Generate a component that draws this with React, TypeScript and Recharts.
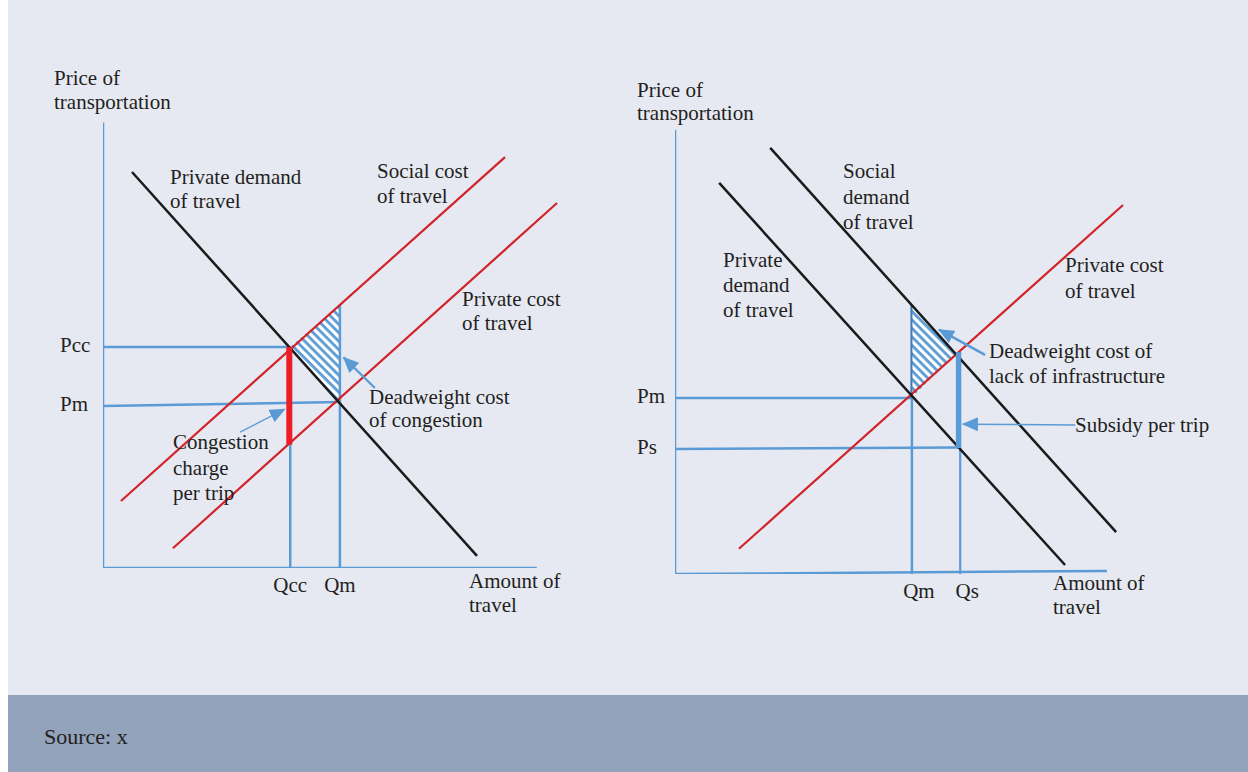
import React from "react";
import { ComposedChart, Line, Area, XAxis, YAxis } from "recharts";

type Pt = { q: number; p: number };
type RPt = { q: number; r: [number, number] };

// ---------- Left panel: congestion charge ----------
const leftPriceTickValues = [36, 49.1];
const leftPriceTickLabels = ["Pm", "Pcc"];
const leftQtyTickValues = [40.7, 51.5];
const leftQtyTickLabels = ["Qcc", "Qm"];

const leftAxisY: Pt[] = [{ q: 0, p: 0 }, { q: 0, p: 99 }];
const leftAxisX: Pt[] = [{ q: 0, p: 0 }, { q: 94.3, p: 0 }];
const leftPrivateDemand: Pt[] = [{ q: 6.3, p: 88 }, { q: 81.3, p: 2.7 }];
const leftSocialCost: Pt[] = [{ q: 3.9, p: 14.9 }, { q: 87.4, p: 91.3 }];
const leftPrivateCost: Pt[] = [{ q: 15.2, p: 4.4 }, { q: 98.7, p: 81.1 }];
const leftPccLine: Pt[] = [{ q: 0, p: 49.1 }, { q: 40.7, p: 49.1 }];
const leftPmLine: Pt[] = [{ q: 0, p: 36 }, { q: 51.5, p: 36.9 }];
const leftQccLine: Pt[] = [{ q: 40.7, p: 0 }, { q: 40.7, p: 49.1 }];
const leftQmLine: Pt[] = [{ q: 51.5, p: 0 }, { q: 51.5, p: 58.5 }];
const leftChargeBar: Pt[] = [{ q: 40.5, p: 27.4 }, { q: 40.5, p: 49.1 }];
const leftDeadweight: RPt[] = [
  { q: 40.7, r: [49.1, 49.1] },
  { q: 51.5, r: [36.9, 58.5] },
];
const leftDeadweightArrow: Pt[] = [{ q: 59.1, p: 40 }, { q: 52.3, p: 46.8 }];
const leftChargeArrow: Pt[] = [{ q: 29.8, p: 30.2 }, { q: 39.5, p: 35.3 }];

// ---------- Right panel: lack of infrastructure ----------
const rightPriceTickValues = [27.8, 39.1];
const rightPriceTickLabels = ["Ps", "Pm"];
const rightQtyTickValues = [51.5, 62];
const rightQtyTickLabels = ["Qm", "Qs"];

const rightAxisY: Pt[] = [{ q: 0, p: 0 }, { q: 0, p: 98.7 }];
const rightAxisX: Pt[] = [{ q: 0, p: 0 }, { q: 93.9, p: 0.67 }];
const rightPrivateDemand: Pt[] = [{ q: 9.6, p: 86.9 }, { q: 84.8, p: 2 }];
const rightSocialDemand: Pt[] = [{ q: 20.7, p: 94.7 }, { q: 95.9, p: 9.3 }];
const rightPrivateCost: Pt[] = [{ q: 13.9, p: 5.6 }, { q: 97.4, p: 82 }];
const rightPmLine: Pt[] = [{ q: 0, p: 39.1 }, { q: 51.5, p: 39.1 }];
const rightPsLine: Pt[] = [{ q: 0, p: 27.8 }, { q: 61.8, p: 28.1 }];
const rightQmLine: Pt[] = [{ q: 51.5, p: 0 }, { q: 51.5, p: 39.1 }];
const rightQsLine: Pt[] = [{ q: 62, p: 0 }, { q: 62, p: 49.3 }];
const rightSubsidyBar: Pt[] = [{ q: 61.6, p: 28 }, { q: 61.6, p: 49.3 }];
const rightDeadweight: RPt[] = [
  { q: 51.4, r: [39.1, 59.8] },
  { q: 61.2, r: [49.3, 49.3] },
];
const rightDeadweightEdge: Pt[] = [{ q: 51.4, p: 39.1 }, { q: 51.4, p: 59.8 }];
const rightDeadweightArrow: Pt[] = [{ q: 67.4, p: 48.7 }, { q: 57.4, p: 54.3 }];
const rightSubsidyArrow: Pt[] = [{ q: 87, p: 33.1 }, { q: 62.6, p: 33.3 }];

// ---------- Styles ----------
const FONT = "'Liberation Serif', 'Times New Roman', serif";
const TEXT = "#231f20";
const BLUE = "#5b9bd5";
const DARKBLUE = "#3f78b5";
const RED = "#d2232a";
const BRIGHTRED = "#ee1c25";
const BLACK = "#1a1a1a";
const BG = "#e6e9f2";
const BAND = "#94a3bc";
const FS = 21;

type Label = { x: number; y: number; lh: number; lines: string[] };
const labels: Label[] = [
  { x: 54, y: 85, lh: 23.5, lines: ["Price of", "transportation"] },
  { x: 170, y: 184, lh: 24, lines: ["Private demand", "of travel"] },
  { x: 377, y: 178, lh: 25, lines: ["Social cost", "of travel"] },
  { x: 462, y: 306, lh: 24, lines: ["Private cost", "of travel"] },
  { x: 369, y: 404, lh: 23, lines: ["Deadweight cost", "of congestion"] },
  { x: 173, y: 449, lh: 25.5, lines: ["Congestion", "charge", "per trip"] },
  { x: 469, y: 588, lh: 24, lines: ["Amount of", "travel"] },
  { x: 637, y: 97, lh: 23, lines: ["Price of", "transportation"] },
  { x: 843, y: 178, lh: 25.5, lines: ["Social", "demand", "of travel"] },
  { x: 723, y: 267, lh: 25, lines: ["Private", "demand", "of travel"] },
  { x: 1065, y: 272, lh: 25.5, lines: ["Private cost", "of travel"] },
  { x: 989, y: 358, lh: 25, lines: ["Deadweight cost of", "lack of infrastructure"] },
  { x: 1075, y: 432, lh: 24, lines: ["Subsidy per trip"] },
  { x: 1053, y: 590, lh: 24, lines: ["Amount of", "travel"] },
];

const seg = (
  key: string,
  data: Pt[],
  color: string,
  width: number,
  arrow?: boolean
) => (
  <Line
    key={key}
    data={data}
    dataKey="p"
    type="linear"
    stroke={color}
    strokeWidth={width}
    dot={false}
    activeDot={false}
    isAnimationActive={false}
    legendType="none"
    strokeLinecap="butt"
    markerEnd={arrow ? "url(#arrowBlue)" : undefined}
  />
);

const makeQTick = (values: number[], names: string[], y: number, dx: number) =>
  (props: any) => {
    const i = values.indexOf(props.payload.value);
    return (
      <text
        x={props.x + dx}
        y={y}
        textAnchor="middle"
        fontFamily={FONT}
        fontSize={FS}
        fill={TEXT}
      >
        {names[i]}
      </text>
    );
  };

const makePTick = (values: number[], names: string[], x: number) =>
  (props: any) => {
    const i = values.indexOf(props.payload.value);
    return (
      <text
        x={x}
        y={props.y + 5}
        textAnchor="start"
        fontFamily={FONT}
        fontSize={FS}
        fill={TEXT}
      >
        {names[i]}
      </text>
    );
  };

function LeftChart() {
  return (
    <ComposedChart
      width={620}
      height={695}
      margin={{ top: 118, right: 65, bottom: 97, left: 35 }}
    >
      <XAxis
        type="number"
        dataKey="q"
        domain={[0, 100]}
        allowDataOverflow
        ticks={leftQtyTickValues}
        interval={0}
        axisLine={false}
        tickLine={false}
        height={30}
        tick={makeQTick(leftQtyTickValues, leftQtyTickLabels, 592, 0)}
      />
      <YAxis
        type="number"
        domain={[0, 100]}
        allowDataOverflow
        ticks={leftPriceTickValues}
        interval={0}
        axisLine={false}
        tickLine={false}
        width={60}
        tick={makePTick(leftPriceTickValues, leftPriceTickLabels, 52)}
      />
      <Area
        data={leftDeadweight}
        dataKey="r"
        type="linear"
        fill="url(#hatch)"
        fillOpacity={1}
        stroke="none"
        isAnimationActive={false}
        legendType="none"
        dot={false}
        activeDot={false}
      />
      {seg("ay", leftAxisY, BLUE, 2.5)}
      {seg("ax", leftAxisX, BLUE, 2.5)}
      {seg("pcc", leftPccLine, BLUE, 2.5)}
      {seg("pm", leftPmLine, BLUE, 2.5)}
      {seg("qcc", leftQccLine, BLUE, 2.5)}
      {seg("qm", leftQmLine, BLUE, 2.5)}
      {seg("sc", leftSocialCost, RED, 2.2)}
      {seg("pc", leftPrivateCost, RED, 2.2)}
      {seg("pd", leftPrivateDemand, BLACK, 2.5)}
      {seg("bar", leftChargeBar, BRIGHTRED, 6)}
      {seg("dwa", leftDeadweightArrow, BLUE, 2.2, true)}
      {seg("cha", leftChargeArrow, BLUE, 1.3, true)}
    </ComposedChart>
  );
}

function RightChart() {
  return (
    <ComposedChart
      width={620}
      height={695}
      margin={{ top: 124, right: 113, bottom: 91, left: 7 }}
    >
      <XAxis
        type="number"
        dataKey="q"
        domain={[0, 100]}
        allowDataOverflow
        ticks={rightQtyTickValues}
        interval={0}
        axisLine={false}
        tickLine={false}
        height={30}
        tick={makeQTick(rightQtyTickValues, rightQtyTickLabels, 598, 7)}
      />
      <YAxis
        type="number"
        domain={[0, 100]}
        allowDataOverflow
        ticks={rightPriceTickValues}
        interval={0}
        axisLine={false}
        tickLine={false}
        width={40}
        tick={makePTick(rightPriceTickValues, rightPriceTickLabels, 9)}
      />
      <Area
        data={rightDeadweight}
        dataKey="r"
        type="linear"
        fill="url(#hatch)"
        fillOpacity={1}
        stroke="none"
        isAnimationActive={false}
        legendType="none"
        dot={false}
        activeDot={false}
      />
      {seg("ay", rightAxisY, BLUE, 2.5)}
      {seg("ax", rightAxisX, BLUE, 2.5)}
      {seg("pm", rightPmLine, BLUE, 2.5)}
      {seg("ps", rightPsLine, BLUE, 2.5)}
      {seg("qm", rightQmLine, BLUE, 2.5)}
      {seg("qs", rightQsLine, BLUE, 2.2)}
      {seg("edge", rightDeadweightEdge, DARKBLUE, 2)}
      {seg("pc", rightPrivateCost, RED, 2.2)}
      {seg("pd", rightPrivateDemand, BLACK, 2.5)}
      {seg("sd", rightSocialDemand, BLACK, 2.5)}
      {seg("bar", rightSubsidyBar, BLUE, 5)}
      {seg("dwa", rightDeadweightArrow, BLUE, 2.5, true)}
      {seg("sba", rightSubsidyArrow, BLUE, 1.5, true)}
    </ComposedChart>
  );
}

export default function App() {
  return (
    <div
      style={{
        position: "absolute",
        left: 8,
        top: 0,
        width: 1240,
        height: 772,
        background: BG,
        overflow: "hidden",
      }}
    >
      <svg width={0} height={0} style={{ position: "absolute" }}>
        <defs>
          <pattern
            id="hatch"
            width="6"
            height="6"
            patternUnits="userSpaceOnUse"
            patternTransform="rotate(-45)"
          >
            <rect width="6" height="6" fill={BLUE} />
            <rect x="0" y="0" width="3.2" height="6" fill="#ffffff" />
          </pattern>
          <marker
            id="arrowBlue"
            markerWidth="16"
            markerHeight="14"
            refX="15"
            refY="7"
            orient="auto"
            markerUnits="userSpaceOnUse"
          >
            <path d="M0,0 L16,7 L0,14 Z" fill={BLUE} />
          </marker>
        </defs>
      </svg>
      <div style={{ position: "absolute", left: 0, top: 0 }}>
        <LeftChart />
      </div>
      <div style={{ position: "absolute", left: 620, top: 0 }}>
        <RightChart />
      </div>
      <div
        style={{
          position: "absolute",
          left: 0,
          top: 695,
          width: 1240,
          height: 77,
          background: BAND,
        }}
      />
      <svg
        width={1240}
        height={772}
        style={{ position: "absolute", left: 0, top: 0, pointerEvents: "none" }}
      >
        <g transform="translate(-8,0)" fontFamily={FONT} fontSize={FS} fill={TEXT}>
          {labels.map((l, i) => (
            <text key={i} x={l.x} y={l.y}>
              {l.lines.map((line, j) => (
                <tspan key={j} x={l.x} y={l.y + j * l.lh}>
                  {line}
                </tspan>
              ))}
            </text>
          ))}
          <text x={44} y={744} fontSize={22}>
            Source: x
          </text>
        </g>
      </svg>
    </div>
  );
}
